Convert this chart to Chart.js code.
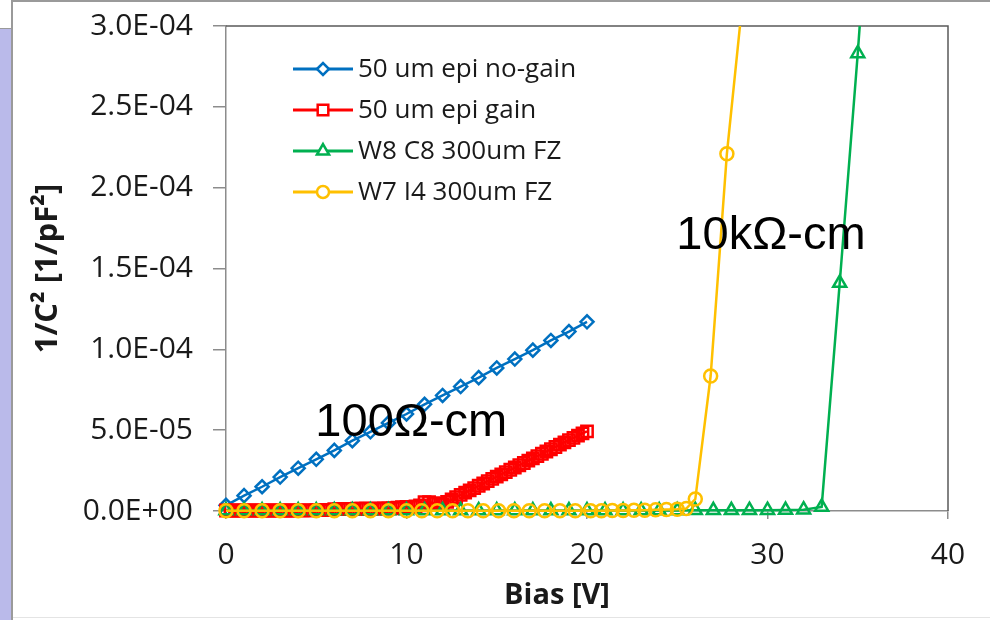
<!DOCTYPE html>
<html>
<head>
<meta charset="utf-8">
<title>1/C^2 vs Bias</title>
<script src="https://cdn.jsdelivr.net/npm/chart.js@4.4.1/dist/chart.umd.min.js"></script>
<style>
  html, body { margin: 0; padding: 0; background: #fff; }
  #slide { position: relative; width: 990px; height: 620px; overflow: hidden; background: #fff; }
  #strip { position: absolute; left: 0; top: 28px; width: 11px; height: 592px; background: #babaea; border-top: 1px solid #9a9a9a; }
  #vline { position: absolute; left: 11px; top: 0; width: 2px; height: 620px; background: #9a9a9a; }
  #hline { position: absolute; left: 11px; top: 0; width: 979px; height: 2px; background: #9a9a9a; }
  #bline { position: absolute; left: 13px; top: 617px; width: 977px; height: 1px; background: #e4e4e4; }
  canvas { position: absolute; left: 0; top: 0; }
</style>
</head>
<body>
<div id="slide">
  <div id="strip"></div>
  <div id="vline"></div>
  <div id="hline"></div>
  <div id="bline"></div>
  <canvas id="cv" width="990" height="620"></canvas>
</div>
<script>
// series names (legend order)
const seriesNames = ['50 um epi no-gain', '50 um epi gain', 'W8 C8 300um FZ', 'W7 I4 300um FZ'];

// 50 um epi no-gain
const noGainBias = [0,1,2,3,4,5,6,7,8,9,10,11,12,13,14,15,16,17,18,19,20];
const noGainVal = [3.5e-6,9.5e-6,15.0e-6,21.0e-6,26.5e-6,32.0e-6,37.5e-6,43.5e-6,49.0e-6,54.5e-6,60.0e-6,
  66.0e-6,71.5e-6,77.0e-6,82.5e-6,88.5e-6,94.0e-6,99.5e-6,105.5e-6,111.0e-6,117.0e-6];

// 50 um epi gain
const gainBias = [0,0.25,0.5,0.75,1,1.25,1.5,1.75,2,2.25,2.5,2.75,3,3.25,3.5,3.75,4,4.25,4.5,4.75,
  5,5.25,5.5,5.75,6,6.25,6.5,6.75,7,7.25,7.5,7.75,8,8.25,8.5,8.75,9,9.25,9.5,9.75,
  10,10.25,10.5,10.75,11,11.25,11.5,11.75,12,12.25,12.5,12.75,13,13.25,13.5,13.75,14,14.25,14.5,14.75,
  15,15.25,15.5,15.75,16,16.25,16.5,16.75,17,17.25,17.5,17.75,18,18.25,18.5,18.75,19,19.25,19.5,19.75,20];
const gainVal = [0.3e-6,0.3e-6,0.3e-6,0.3e-6,0.3e-6,0.3e-6,0.3e-6,0.3e-6,0.3e-6,0.3e-6,0.3e-6,0.3e-6,0.3e-6,0.3e-6,0.3e-6,0.3e-6,0.4e-6,0.4e-6,0.4e-6,0.4e-6,
  0.5e-6,0.5e-6,0.5e-6,0.6e-6,1.2e-6,1.2e-6,1.3e-6,1.3e-6,1.3e-6,1.4e-6,1.4e-6,1.4e-6,1.5e-6,1.5e-6,1.5e-6,1.6e-6,1.6e-6,1.7e-6,2.0e-6,2.3e-6,
  2.5e-6,2.6e-6,2.8e-6,3.5e-6,5.5e-6,5.5e-6,4.8e-6,4.4e-6,4.3e-6,5.7e-6,7.1e-6,8.6e-6,10.0e-6,11.4e-6,12.8e-6,14.2e-6,15.6e-6,17.0e-6,18.5e-6,19.9e-6,
  21.3e-6,22.7e-6,24.1e-6,25.5e-6,26.9e-6,28.3e-6,29.7e-6,31.2e-6,32.6e-6,34.0e-6,35.4e-6,36.8e-6,38.2e-6,39.6e-6,41.0e-6,42.4e-6,43.8e-6,45.2e-6,46.6e-6,48.0e-6,49.2e-6];

// W8 C8 300um FZ
const w8Bias = [0,1,2,3,4,5,6,7,8,9,10,11,12,13,14,15,16,17,18,19,20,21,22,23,24,25,26,27,28,29,30,31,32,33,34,35,36];
const w8Val = [0.3e-6,0.3e-6,0.3e-6,0.3e-6,0.3e-6,0.3e-6,0.3e-6,0.3e-6,0.3e-6,0.3e-6,0.3e-6,0.3e-6,0.3e-6,0.3e-6,0.3e-6,0.3e-6,0.3e-6,0.3e-6,0.3e-6,0.3e-6,
  0.3e-6,0.3e-6,0.3e-6,0.3e-6,0.3e-6,0.3e-6,0.4e-6,0.4e-6,0.4e-6,0.5e-6,0.5e-6,0.6e-6,0.8e-6,2.5e-6,141e-6,283e-6,440e-6];

// W7 I4 300um FZ
const w7Bias = [0,1,2,3,4,5,6,7,8,9,10,10.85,11.7,12.55,13.4,14.25,15.1,15.95,16.8,17.65,18.5,19.35,20.2,
  20.8,21.4,22,22.6,23.2,23.8,24.4,25,25.5,26,26.85,27.75,28.75];
const w7Val = [0.2e-6,0.2e-6,0.2e-6,0.2e-6,0.2e-6,0.2e-6,0.2e-6,0.2e-6,0.2e-6,0.2e-6,0.2e-6,0.2e-6,0.2e-6,0.2e-6,0.2e-6,0.2e-6,0.2e-6,0.2e-6,0.2e-6,0.2e-6,0.2e-6,0.2e-6,0.2e-6,
  0.2e-6,0.3e-6,0.3e-6,0.4e-6,0.5e-6,0.7e-6,0.9e-6,1.1e-6,1.5e-6,7.4e-6,83.5e-6,221e-6,330e-6];

// axis ticks
const xTickValues = [0, 10, 20, 30, 40];
const yTickValues = [0, 5e-5, 1e-4, 1.5e-4, 2e-4, 2.5e-4, 3e-4];
const yTickLabels = ['0.0E+00', '5.0E-05', '1.0E-04', '1.5E-04', '2.0E-04', '2.5E-04', '3.0E-04'];

// text labels on the plot
const noteTexts = ['100\u03A9-cm', '10k\u03A9-cm'];
const noteBias = [4.95, 24.95];
const noteVal = [46.5e-6, 162e-6];

const toXY = (xs, ys) => xs.map((x, i) => ({x: x, y: ys[i]}));

const colors = ['#0070C0', '#FF0000', '#00B050', '#FFC000'];
const styles = ['rectRot', 'rect', 'triangle', 'circle'];
const radii = [6.5, 8, 7.5, 6.5];
const TXT = '#1a1a1a';

function mk(i, xs, ys, order) {
  return {
    label: seriesNames[i],
    data: toXY(xs, ys),
    borderColor: colors[i],
    backgroundColor: 'rgba(0,0,0,0)',
    borderWidth: 2.5,
    pointStyle: styles[i],
    pointRadius: radii[i],
    pointBorderColor: colors[i],
    pointBackgroundColor: 'rgba(0,0,0,0)',
    pointBorderWidth: 2.5,
    tension: 0,
    order: order,
    // let markers on the axes show whole, but cut lines at the top
    clip: {left: 12, right: 12, bottom: 12, top: 0}
  };
}

// marker for the legend
function marker(ctx, style, x, y, r) {
  ctx.beginPath();
  if (style === 'rectRot') {
    ctx.moveTo(x - r, y); ctx.lineTo(x, y - r); ctx.lineTo(x + r, y); ctx.lineTo(x, y + r);
  } else if (style === 'rect') {
    const s = r * Math.SQRT1_2;
    ctx.rect(x - s, y - s, 2 * s, 2 * s);
  } else if (style === 'triangle') {
    ctx.moveTo(x, y - r);
    ctx.lineTo(x + r * Math.sin(Math.PI / 3), y + r / 2);
    ctx.lineTo(x - r * Math.sin(Math.PI / 3), y + r / 2);
  } else {
    ctx.arc(x, y, r, 0, Math.PI * 2);
  }
  ctx.closePath();
  ctx.fillStyle = '#fff';
  ctx.fill();
  ctx.stroke();
}

const extras = {
  id: 'extras',
  beforeDatasetsDraw(chart) {
    const {ctx, chartArea: {left, top, right, bottom}} = chart;
    ctx.save();
    // plot frame top and right
    ctx.strokeStyle = '#595959';
    ctx.lineWidth = 1.5;
    ctx.beginPath();
    ctx.moveTo(left, top);
    ctx.lineTo(right, top);
    ctx.lineTo(right, bottom);
    ctx.stroke();
    ctx.restore();
  },
  afterDraw(chart) {
    const {ctx, scales: {x, y}, chartArea} = chart;
    ctx.save();
    // notes
    ctx.fillStyle = '#000';
    ctx.font = '47px "Liberation Sans", Arial, sans-serif';
    ctx.textAlign = 'left';
    ctx.textBaseline = 'alphabetic';
    noteTexts.forEach((t, i) => {
      ctx.fillText(t, x.getPixelForValue(noteBias[i]), y.getPixelForValue(noteVal[i]));
    });
    // legend
    ctx.font = '26px "Open Sans", sans-serif';
    ctx.textBaseline = 'middle';
    seriesNames.forEach((name, i) => {
      const ly = 69 + i * 41;
      ctx.strokeStyle = colors[i];
      ctx.lineWidth = 3;
      ctx.beginPath();
      ctx.moveTo(293, ly);
      ctx.lineTo(353, ly);
      ctx.stroke();
      ctx.lineWidth = 2.5;
      marker(ctx, styles[i], 323, ly, radii[i] - 0.5);
      ctx.fillStyle = TXT;
      ctx.fillText(name, 358, ly + 1);
    });
    // axis titles
    ctx.fillStyle = TXT;
    ctx.textAlign = 'center';
    ctx.font = 'bold 29px "Open Sans", sans-serif';
    ctx.fillText('Bias [V]', 557, 596);
    ctx.font = 'bold 31px "Open Sans", sans-serif';
    ctx.translate(48, (chartArea.top + chartArea.bottom) / 2);
    ctx.rotate(-Math.PI / 2);
    ctx.fillText('1/C\u00B2 [1/pF\u00B2]', 0, 0);
    ctx.restore();
  }
};

new Chart(document.getElementById('cv'), {
  type: 'line',
  data: {
    datasets: [
      mk(0, noGainBias, noGainVal, 3),
      mk(1, gainBias, gainVal, 2),
      mk(2, w8Bias, w8Val, 1),
      mk(3, w7Bias, w7Val, 0)
    ]
  },
  options: {
    responsive: false,
    animation: false,
    devicePixelRatio: 1,
    layout: {padding: {top: 26, right: 42, left: 0, bottom: 0}},
    plugins: {legend: {display: false}, tooltip: {enabled: false}},
    scales: {
      x: {
        type: 'linear',
        min: 0, max: 40,
        afterBuildTicks: (s) => { s.ticks = xTickValues.map(v => ({value: v})); },
        afterFit: (s) => { s.height = 109; s.paddingLeft = 0; s.paddingRight = 0; },
        border: {color: '#8c8c8c', width: 1.5},
        grid: {drawOnChartArea: false, drawTicks: true, tickLength: 8, color: '#8c8c8c', lineWidth: 1.5},
        ticks: {color: TXT, padding: 18, font: {family: '"Open Sans", sans-serif', size: 30}, maxRotation: 0}
      },
      y: {
        min: 0, max: 3e-4,
        afterBuildTicks: (s) => { s.ticks = yTickValues.map(v => ({value: v})); },
        afterFit: (s) => { s.width = 226; s.paddingTop = 0; s.paddingBottom = 0; },
        border: {color: '#8c8c8c', width: 1.5},
        grid: {drawOnChartArea: false, drawTicks: true, tickLength: 13, color: '#8c8c8c', lineWidth: 1.5},
        ticks: {color: TXT, padding: 20, font: {family: '"Open Sans", sans-serif', size: 30},
          callback: (v, i) => yTickLabels[i]}
      }
    }
  },
  plugins: [extras]
});
</script>
</body>
</html>
